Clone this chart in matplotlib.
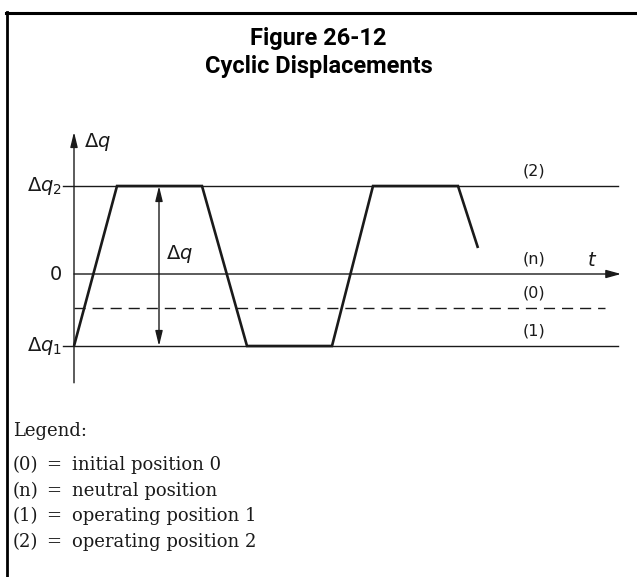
import matplotlib
matplotlib.use("Agg")
import matplotlib.pyplot as plt
from matplotlib.lines import Line2D

# Displacement levels (arbitrary units) and the time trace
level_q2 = 2.2      # operating position 2
level_n = 0.0       # neutral position
level_0 = -0.85     # initial position 0
level_q1 = -1.8     # operating position 1

trace_t = [0.0, 4.3, 12.8, 17.3, 25.8, 29.9, 38.4, 40.4]
trace_q = [level_q1, level_q2, level_q2, level_q1, level_q1, level_q2, level_q2, 0.65]

range_t = 8.5       # position of the Δq range arrow
t_end = 54.4        # end of the reference lines
t_dash_end = 53.1   # end of the dashed line

y_tick_labels = [r"$\Delta q_2$", "0", r"$\Delta q_1$"]
y_tick_values = [level_q2, level_n, level_q1]
line_labels = ["(2)", "(n)", "(0)", "(1)"]
line_label_values = [level_q2, level_n, level_0, level_q1]

title_lines = ["Figure 26-12", "Cyclic Displacements"]
legend_title = "Legend:"
legend_keys = ["(0)", "(n)", "(1)", "(2)"]
legend_texts = ["initial position 0", "neutral position",
                "operating position 1", "operating position 2"]

W, H, DPI = 637, 577, 100
fig = plt.figure(figsize=(W / DPI, H / DPI), dpi=DPI)
fig.patch.set_facecolor("white")

# Axes spans the whole figure; 10 px per time unit, 40 px per displacement unit
ax = fig.add_axes([0, 0, 1, 1])
x0_px, y0_px = 74, 274
ax.set_xlim(-x0_px / 10, (W - x0_px) / 10)
ax.set_ylim(-(H - y0_px) / 40, y0_px / 40)
ax.axis("off")

thin = 1.0
ink = "#1a1a1a"

# reference lines
ax.plot([-1.1, t_end], [level_q2, level_q2], color=ink, lw=thin)
ax.plot([-1.1, t_end], [level_q1, level_q1], color=ink, lw=thin)
ax.plot([0, t_dash_end], [level_0, level_0], color=ink, lw=thin,
        dashes=(8, 5))

# time axis with arrow
ax.annotate("", xy=(t_end + 0.3, level_n), xytext=(0, level_n),
            arrowprops=dict(arrowstyle="-|>,head_length=0.9,head_width=0.25",
                            color=ink, lw=thin, shrinkA=0, shrinkB=0))
# displacement axis with arrow
ax.annotate("", xy=(0, 3.55), xytext=(0, -2.72),
            arrowprops=dict(arrowstyle="-|>,head_length=0.9,head_width=0.22",
                            color=ink, lw=thin, shrinkA=0, shrinkB=0))

# cyclic displacement trace
ax.plot(trace_t, trace_q, color=ink, lw=1.9, solid_joinstyle="miter",
        solid_capstyle="butt")

# Δq range double arrow
ax.annotate("", xy=(range_t, level_q2), xytext=(range_t, level_q1),
            arrowprops=dict(arrowstyle="<|-|>,head_length=0.9,head_width=0.22",
                            color=ink, lw=thin, shrinkA=0, shrinkB=0))
ax.text(range_t + 0.7, 0.5, r"$\Delta q$", fontsize=14, color=ink,
        ha="left", va="center")

# axis labels
ax.text(1.0, 3.3, r"$\Delta q$", fontsize=14, color=ink, ha="left",
        va="center")
ax.text(51.8, 0.35, r"$t$", fontsize=14, color=ink, ha="center",
        va="center")
for lab, val in zip(y_tick_labels, y_tick_values):
    ax.text(-1.2, val, lab, fontsize=14, color=ink, ha="right", va="center")
for lab, val in zip(line_labels, line_label_values):
    ax.text(46.0, val + 0.38, lab, fontsize=11.5, color=ink, ha="center",
            va="center")

# title
fig.text(0.5, 1 - 39 / H, title_lines[0], fontsize=17, fontweight="bold",
         family="Roboto", ha="center", va="center", color="black")
fig.text(0.5, 1 - 66 / H, title_lines[1], fontsize=17, fontweight="bold",
         family="Roboto", ha="center", va="center", color="black")

# legend block
serif = "DejaVu Serif"
fs = 13
fig.text(13 / W, 1 - 431 / H, legend_title, fontsize=fs, family=serif,
         ha="left", va="center", color=ink)
for i, (k, txt) in enumerate(zip(legend_keys, legend_texts)):
    y = 1 - (465 + 25.7 * i) / H
    fig.text(13 / W, y, k, fontsize=fs, family=serif, ha="left",
             va="center", color=ink)
    fig.text(54 / W, y, "=", fontsize=fs, family=serif, ha="center",
             va="center", color=ink)
    fig.text(72 / W, y, txt, fontsize=fs, family=serif, ha="left",
             va="center", color=ink)

# frame: top and left rules
fig.add_artist(Line2D([6 / W, 1], [1 - 13 / H, 1 - 13 / H],
                      transform=fig.transFigure, color="black", lw=2.2))
fig.add_artist(Line2D([7 / W, 7 / W], [1 - 12 / H, 0],
                      transform=fig.transFigure, color="black", lw=2.0))

fig.savefig("out.png", dpi=DPI, facecolor="white")
